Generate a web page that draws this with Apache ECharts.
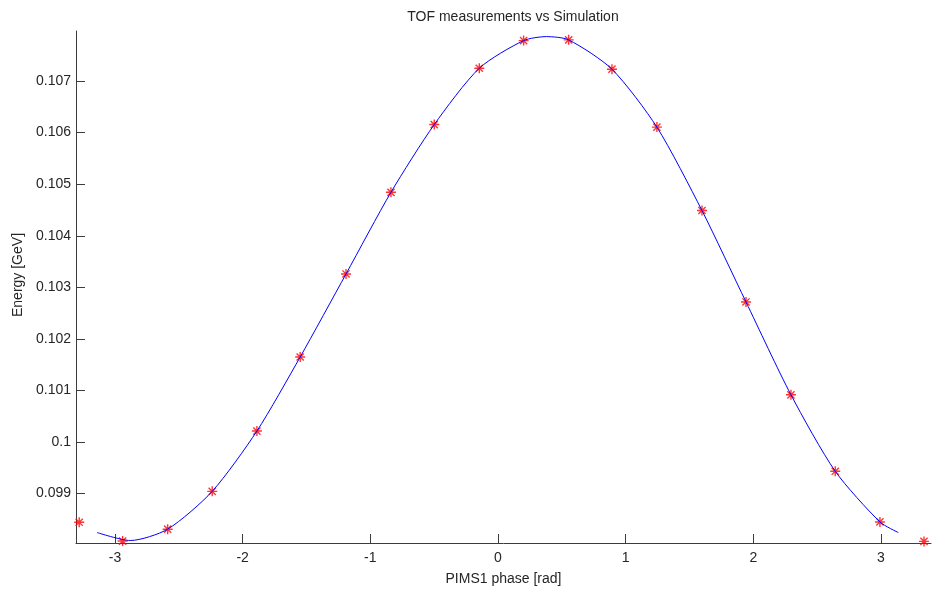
<!DOCTYPE html>
<html>
<head>
<meta charset="utf-8">
<script src="https://cdn.jsdelivr.net/npm/echarts@6/dist/echarts.min.js"></script>
<style>
html,body{margin:0;padding:0;background:#fff;}
#chart{width:932px;height:591px;}
</style>
</head>
<body>
<div id="chart"></div>
<script>
// Measured TOF points
const phaseMeas = [-3.28, -2.94, -2.587, -2.238, -1.888, -1.549, -1.19, -0.838, -0.499, -0.146,
                   0.201, 0.554, 0.893, 1.245, 1.598, 1.943, 2.295, 2.642, 2.992, 3.337];
const energyMeas = [0.098444, 0.098080, 0.098310, 0.099044, 0.100213, 0.101649, 0.103259, 0.104843, 0.106157, 0.107249,
                    0.107785, 0.107799, 0.107230, 0.106107, 0.104490, 0.102716, 0.100916, 0.099433, 0.098450, 0.098073];
// Simulation curve
const phaseSim = [-3.14, -2.88, -2.587, -2.238, -1.888, -1.549, -1.19, -0.838, -0.499, -0.146,
                  0.201, 0.38, 0.554, 0.893, 1.245, 1.598, 1.943, 2.295, 2.642, 2.992, 3.136];
const energySim = [0.098245, 0.098090, 0.098310, 0.099044, 0.100213, 0.101649, 0.103259, 0.104843, 0.106157, 0.107249,
                   0.107785, 0.107862, 0.107799, 0.107230, 0.106107, 0.104490, 0.102716, 0.100916, 0.099433, 0.098450, 0.098245];
const xTicks = [-3, -2, -1, 0, 1, 2, 3];
const yTicks = [0.099, 0.100, 0.101, 0.102, 0.103, 0.104, 0.105, 0.106, 0.107];

const chart = echarts.init(document.getElementById('chart'), null, {renderer: 'canvas'});
const font = 'Liberation Sans';
const axisCol = '#3c3c3c';
const textCol = '#262626';
chart.setOption({
  animation: false,
  backgroundColor: '#ffffff',
  title: {
    text: 'TOF measurements vs Simulation',
    left: 508, top: 5, textAlign: 'center',
    textStyle: {fontFamily: font, fontSize: 14, fontWeight: 'normal', color: textCol}
  },
  grid: {left: 76, right: 1, top: 31, bottom: 42, containLabel: false},
  xAxis: {
    type: 'value', min: -3.305, max: 3.392,
    name: 'PIMS1 phase [rad]', nameLocation: 'middle', nameGap: 29,
    nameTextStyle: {fontFamily: font, fontSize: 14, color: textCol},
    axisLine: {show: true, onZero: false, lineStyle: {color: axisCol, width: 1}},
    axisTick: {show: true, inside: true, length: 9, customValues: xTicks, lineStyle: {color: axisCol}},
    axisLabel: {customValues: xTicks, fontFamily: font, fontSize: 14, color: textCol, margin: 8,
                formatter: v => String(v)},
    splitLine: {show: false}
  },
  yAxis: {
    type: 'value', min: 0.098042, max: 0.107971,
    name: 'Energy [GeV]', nameLocation: 'middle', nameGap: 47, nameRotate: 90,
    nameTextStyle: {fontFamily: font, fontSize: 14, color: textCol, padding: [0, 0, 0, 24]},
    axisLine: {show: true, onZero: false, lineStyle: {color: axisCol, width: 1}},
    axisTick: {show: true, inside: true, length: 9, customValues: yTicks, lineStyle: {color: axisCol}},
    axisLabel: {customValues: yTicks, fontFamily: font, fontSize: 14, color: textCol, margin: 5,
                formatter: v => String(parseFloat(v.toFixed(3)))},
    splitLine: {show: false}
  },
  series: [
    {
      type: 'line', name: 'Simulation',
      data: phaseSim.map((x, i) => [x, energySim[i]]),
      smooth: 0.25, showSymbol: false, symbol: 'none',
      lineStyle: {color: '#0000ff', width: 1}
    },
    {
      type: 'scatter', name: 'TOF',
      data: phaseMeas.map((x, i) => [x, energyMeas[i]]),
      symbol: 'path://M0,-1L0,1M-1,0L1,0M-0.72,-0.72L0.72,0.72M-0.72,0.72L0.72,-0.72',
      symbolSize: 10,
      itemStyle: {color: 'rgba(0,0,0,0)', borderColor: '#ff0000', borderWidth: 1.4}
    }
  ]
});
</script>
</body>
</html>
